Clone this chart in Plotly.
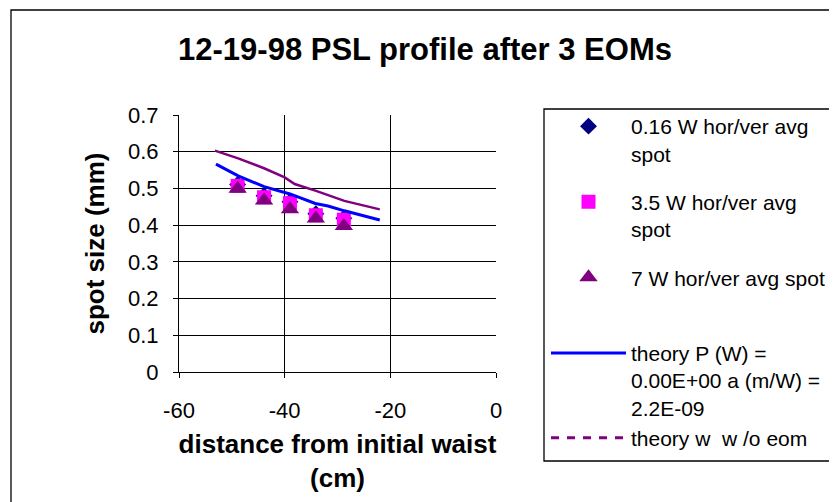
import plotly.graph_objects as go

# ---- data ----
x_meas = [-48.9, -43.9, -39.0, -34.1, -28.8]
spot_016W = [0.511, 0.480, 0.464, 0.431, 0.419]
spot_35W = [0.507, 0.476, 0.460, 0.427, 0.415]
spot_7W = [0.499, 0.467, 0.443, 0.418, 0.398]

x_theory = [-53.0, -48.8, -43.9, -39.0, -34.2, -31.8, -28.7, -25.4, -22.0]
theory_eom = [0.566, 0.534, 0.505, 0.485, 0.459, 0.452, 0.439, 0.427, 0.414]

x_noeom = [-53.2, -48.8, -43.9, -40.0, -38.1, -34.2, -28.7, -22.0]
theory_noeom = [0.603, 0.582, 0.555, 0.530, 0.512, 0.494, 0.466, 0.443]

x_ticks = [-60, -40, -20, 0]
y_ticks = [0, 0.1, 0.2, 0.3, 0.4, 0.5, 0.6, 0.7]

FONT = "Liberation Sans, Arial, sans-serif"
W, H = 837, 502
OFF = 8  # page body margin
L, R, T, B = 179 - OFF, 496 - OFF, 115 - OFF, 372 - OFF
pw, ph = R - L, B - T


def px_x(p):
    return (p - OFF - L) / pw


def px_y(p):
    return (B - (p - OFF)) / ph


fig = go.Figure()
fig.add_trace(go.Scatter(
    x=x_meas, y=spot_016W, mode="markers", name="0.16 W hor/ver avg<br>spot",
    legendgroup="a",
    marker=dict(symbol="diamond", size=13, color="#000080")))
fig.add_trace(go.Scatter(
    x=x_meas, y=spot_35W, mode="markers", name="3.5 W hor/ver avg<br>spot",
    legendgroup="b",
    marker=dict(symbol="square", size=14, color="#FF00FF")))
fig.add_trace(go.Scatter(
    x=x_meas, y=spot_7W, mode="markers", name="7 W hor/ver avg spot<br> ",
    legendgroup="c",
    marker=dict(symbol="triangle-up", size=16, color="#800080")))
fig.add_trace(go.Scatter(
    x=x_theory, y=theory_eom, mode="lines",
    name="theory P (W) =<br>0.00E+00 a (m/W) =<br>2.2E-09",
    legendgroup="d",
    line=dict(color="#0000FF", width=3)))
fig.add_trace(go.Scatter(
    x=x_noeom, y=theory_noeom, mode="lines", showlegend=False,
    legendgroup="d",
    line=dict(color="#800080", width=2.5)))
fig.add_trace(go.Scatter(
    x=[None], y=[None], mode="lines", name="theory w&nbsp; w /o eom",
    legendgroup="d",
    line=dict(color="#800080", width=3, dash="8px,8px")))

shapes = [
    # outer chart border
    dict(type="rect", xref="paper", yref="paper",
         x0=px_x(11), x1=px_x(870), y0=px_y(540), y1=px_y(10),
         line=dict(color="black", width=1.3), layer="below"),
    # legend box
    dict(type="rect", xref="paper", yref="paper",
         x0=px_x(544), x1=px_x(870), y0=px_y(461), y1=px_y(109),
         line=dict(color="black", width=1.3), layer="below"),
]

axis_common = dict(
    showline=True, linecolor="black", linewidth=1,
    ticks="outside", ticklen=5, tickcolor="black",
    showgrid=True, gridcolor="black", gridwidth=1,
    zeroline=False, automargin=False,
    tickfont=dict(family=FONT, size=22, color="black"),
)

fig.update_layout(
    width=W, height=H,
    margin=dict(l=L, r=W - R, t=T, b=H - B, autoexpand=False),
    paper_bgcolor="white", plot_bgcolor="white",
    title=dict(text="<b>12-19-98 PSL profile after 3 EOMs</b>",
               font=dict(family=FONT, size=31, color="black"),
               x=(425 - OFF) / W, xanchor="center", xref="container",
               y=1 - (49 - OFF) / H, yanchor="middle", yref="container"),
    xaxis=dict(range=[-60, 0], tickvals=x_ticks, ticktext=[str(v) for v in x_ticks],
               ticklabelstandoff=14,
               title=dict(text="<b>distance from initial waist<br>(cm)</b>",
                          font=dict(family=FONT, size=26, color="black"),
                          standoff=12),
               **axis_common),
    yaxis=dict(range=[0, 0.7], tickvals=y_ticks,
               ticktext=["0" if v == 0 else f"{v:.1f}" for v in y_ticks],
               ticklabelstandoff=10,
               title=dict(text="<b>spot size (mm)</b>",
                          font=dict(family=FONT, size=26, color="black"),
                          standoff=15),
               **axis_common),
    legend=dict(x=px_x(546), xanchor="left", y=px_y(106), yanchor="top",
                font=dict(family=FONT, size=21, color="black"),
                itemwidth=75, valign="top", tracegroupgap=18,
                maxheight=480,
                bgcolor="rgba(0,0,0,0)", borderwidth=0),
    shapes=shapes,
    showlegend=True,
)

fig.write_html("out.html")
